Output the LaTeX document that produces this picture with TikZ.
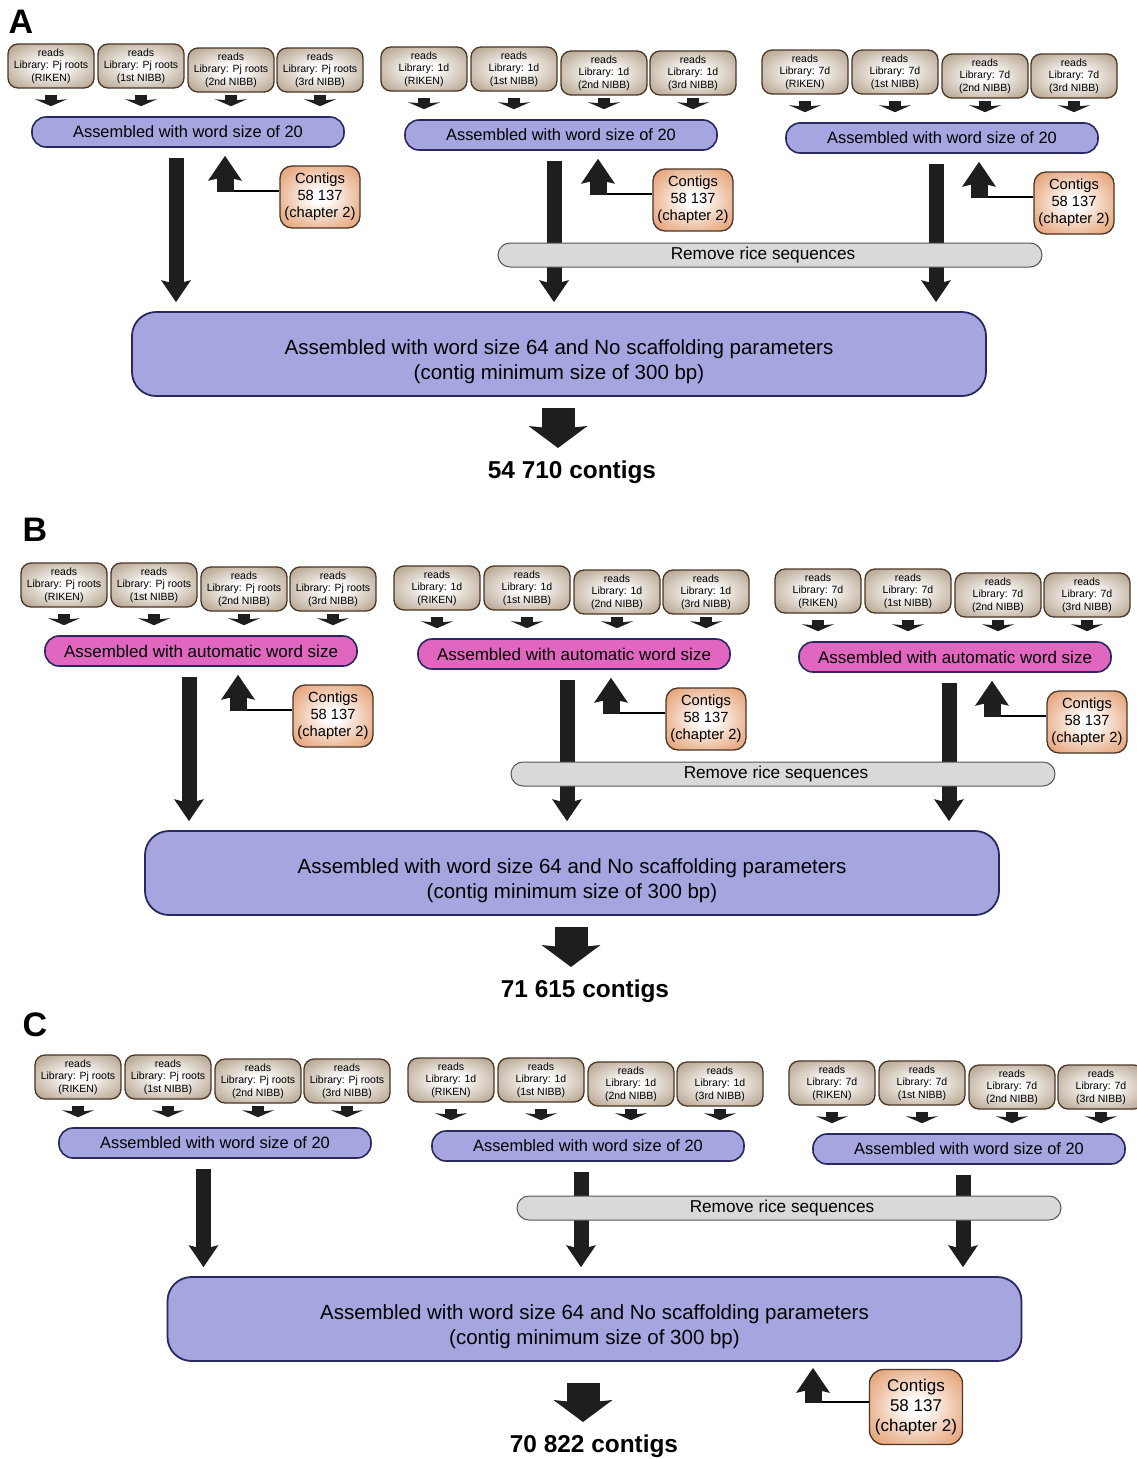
\documentclass[tikz,border=0pt]{standalone}
\usepackage{fontspec}
\setmainfont{Liberation Sans}
\usetikzlibrary{arrows.meta}
\definecolor{lav}{HTML}{A5A5E0}
\definecolor{navyb}{HTML}{2A2860}
\definecolor{pinkf}{HTML}{E066C0}
\definecolor{tanC}{HTML}{A8937A}
\definecolor{brownb}{HTML}{4A3526}
\definecolor{orangeC}{HTML}{E0915E}
\definecolor{barfill}{HTML}{D9D9D9}
\definecolor{barline}{HTML}{555555}
\definecolor{arrc}{HTML}{1E1E1E}
\pgfdeclareradialshading{readsshade}{\pgfpoint{0bp}{0bp}}{color(0bp)=(white); color(6bp)=(white); color(22bp)=(tanC!50!white); color(38bp)=(tanC); color(50bp)=(tanC)}
\pgfdeclareradialshading{contigshade}{\pgfpoint{0bp}{0bp}}{color(0bp)=(white); color(5bp)=(white); color(22bp)=(orangeC!55!white); color(38bp)=(orangeC); color(50bp)=(orangeC)}
\tikzset{
 readsbox/.style={draw=brownb, line width=1.3pt, rounded corners=10pt, shading=readsshade, minimum width=86pt, minimum height=44pt, inner sep=0pt, align=center, font=\fontsize{10.5}{12.5}\selectfont},
 asmbox/.style={draw=navyb, line width=1.6pt, fill=lav, rounded corners=14pt, minimum width=312pt, minimum height=30pt, inner sep=0pt, font=\fontsize{16.4}{19}\selectfont},
 autobox/.style={asmbox, fill=pinkf, font=\fontsize{17}{19}\selectfont},
 contigbox/.style={draw=brownb, line width=1.3pt, rounded corners=12pt, shading=contigshade, minimum width=80pt, minimum height=62pt, inner sep=0pt, align=center, font=\fontsize{14.7}{17}\selectfont},
 bigcontigbox/.style={contigbox, minimum width=93pt, minimum height=75pt, rounded corners=14pt, font=\fontsize{17}{20}\selectfont},
 bigbox/.style={draw=navyb, line width=1.8pt, fill=lav, rounded corners=24pt, minimum width=854pt, minimum height=84pt, inner sep=0pt, align=center, font=\fontsize{20.5}{25}\selectfont},
 ricebar/.style={draw=barline, line width=1pt, fill=barfill, rounded corners=12pt, minimum width=544pt, minimum height=24pt, inner sep=0pt, font=\fontsize{17.2}{20}\selectfont},
 panellabel/.style={font=\fontsize{34}{34}\selectfont\bfseries, inner sep=0pt},
 countlbl/.style={font=\fontsize{24.4}{28}\selectfont\bfseries, inner sep=0pt},
 smallarr/.style={draw=arrc, line width=12pt, -{Stealth[length=7pt,width=32pt,inset=1.5pt,line width=0pt]}},
 bigarr/.style={draw=arrc, line width=15pt, -{Stealth[length=22pt,width=30pt,inset=4pt,line width=0pt]}},
 uparr/.style={draw=arrc, line width=17pt, -{Stealth[length=25pt,width=34pt,inset=4pt,line width=0pt]}},
 finalarr/.style={draw=arrc, line width=33pt, -{Stealth[length=22pt,width=59pt,inset=3pt,line width=0pt]}},
 linkline/.style={draw=black, line width=1.3pt}
}
\newcommand\bigtext{\rule{0pt}{31pt}Assembled with word size 64 and No scaffolding parameters\\(contig minimum size of 300 bp)}
\newcommand\ricetext{Remove rice sequences\kern14pt}
\newcommand\readsgroup[4]{%
  \node[readsbox] (#1r1) at (51,66) {reads\\Library: #2\\(RIKEN)};
  \node[readsbox] (#1r2) at (141,66) {reads\\Library: #2\\(1st NIBB)};
  \node[readsbox] (#1r3) at (231,70) {reads\\Library: #2\\(2nd NIBB)};
  \node[readsbox] (#1r4) at (320,70) {reads\\Library: #2\\(3rd NIBB)};
  \node[#3] (#1a) at (188,132) {#4};
  \foreach \k in {1,2,3,4}{%
    \coordinate (#1e\k) at (#1r\k.south |- #1a.north);
    \draw[smallarr] ([yshift=21pt]#1e\k) -- ([yshift=10pt]#1e\k);
  }%
}
\newcommand\contigsup[1]{%
  \node[contigbox] (#1c) at (320,197) {Contigs\\58 137\\(chapter 2)};
  \coordinate (#1u) at (225,191);
  \draw[linkline] (#1c.west |- #1u) -- (#1u);
  \draw[uparr, shorten >=8pt] ([yshift=-1pt]#1u) -- (#1u |- #1a.south);
}
\newcommand\bigdown[3]{%
  \coordinate (#1d) at ([xshift=#2]#1a.south);
  \draw[bigarr, shorten <=10pt, shorten >=9pt] (#1d) -- (#1d |- #3.north);
}
\begin{document}
\begin{tikzpicture}[x=1pt,y=-1pt]
\fill[white] (0,0) rectangle (1137,1459);
\useasboundingbox (0,0) rectangle (1137,1459);

% ---------------- Panel A ----------------
\node[panellabel] (labA) at (21,22) {A};
\begin{scope}
  \begin{scope}\readsgroup{Ag1}{Pj roots}{asmbox}{Assembled with word size of 20}\contigsup{Ag1}\end{scope}
  \begin{scope}[shift={(373,3)}]\readsgroup{Ag2}{1d}{asmbox}{Assembled with word size of 20}\contigsup{Ag2}\end{scope}
  \begin{scope}[shift={(754,6)}]\readsgroup{Ag3}{7d}{asmbox}{Assembled with word size of 20}\contigsup{Ag3}\end{scope}
  \node[bigbox] (Abig) at (559,354) {\bigtext};
  \bigdown{Ag1}{-12pt}{Abig}
  \bigdown{Ag2}{-7pt}{Abig}
  \bigdown{Ag3}{-6pt}{Abig}
  \node[ricebar] (Arice) at (770,255) {\ricetext};
  \node[countlbl] (Acount) at (572,472) {54 710 contigs};
  \coordinate (Atip) at (558,448);
  \draw[finalarr, shorten <=11pt] (Atip |- Abig.south) -- (Atip);
\end{scope}

% ---------------- Panel B ----------------
\node[panellabel] (labB) at (35,530) {B};
\begin{scope}[shift={(13,519)}]
  \begin{scope}\readsgroup{Bg1}{Pj roots}{autobox}{Assembled with automatic word size}\contigsup{Bg1}\end{scope}
  \begin{scope}[shift={(373,3)}]\readsgroup{Bg2}{1d}{autobox}{Assembled with automatic word size}\contigsup{Bg2}\end{scope}
  \begin{scope}[shift={(754,6)}]\readsgroup{Bg3}{7d}{autobox}{Assembled with automatic word size}\contigsup{Bg3}\end{scope}
  \node[bigbox] (Bbig) at (559,354) {\bigtext};
  \bigdown{Bg1}{-12pt}{Bbig}
  \bigdown{Bg2}{-7pt}{Bbig}
  \bigdown{Bg3}{-6pt}{Bbig}
  \node[ricebar] (Brice) at (770,255) {\ricetext};
  \node[countlbl] (Bcount) at (572,472) {71 615 contigs};
  \coordinate (Btip) at (558,448);
  \draw[finalarr, shorten <=11pt] (Btip |- Bbig.south) -- (Btip);
\end{scope}

% ---------------- Panel C ----------------
\node[panellabel] (labC) at (35,1025) {C};
\begin{scope}[shift={(27,1011)}]
  \begin{scope}\readsgroup{Cg1}{Pj roots}{asmbox}{Assembled with word size of 20}\end{scope}
  \begin{scope}[shift={(373,3)}]\readsgroup{Cg2}{1d}{asmbox}{Assembled with word size of 20}\end{scope}
  \begin{scope}[shift={(754,6)}]\readsgroup{Cg3}{7d}{asmbox}{Assembled with word size of 20}\end{scope}
\end{scope}
\node[bigbox] (Cbig) at (594.5,1319) {\bigtext};
\bigdown{Cg1}{-11.5pt}{Cbig}
\bigdown{Cg2}{-7pt}{Cbig}
\bigdown{Cg3}{-6pt}{Cbig}
\node[ricebar] (Crice) at (789,1208) {\ricetext};
\node[countlbl] (Ccount) at (594,1446) {70 822 contigs};
\coordinate (Ctip) at (583,1422);
\draw[finalarr, shorten <=21pt] (Ctip |- Cbig.south) -- (Ctip);
\node[bigcontigbox] (Cc) at (916,1407) {Contigs\\58 137\\(chapter 2)};
\coordinate (Cu) at (813,1402);
\draw[linkline] (Cc.west |- Cu) -- (Cu);
\draw[uparr, shorten >=6pt] ([yshift=-1pt]Cu) -- (Cu |- Cbig.south);
\end{tikzpicture}
\end{document}
